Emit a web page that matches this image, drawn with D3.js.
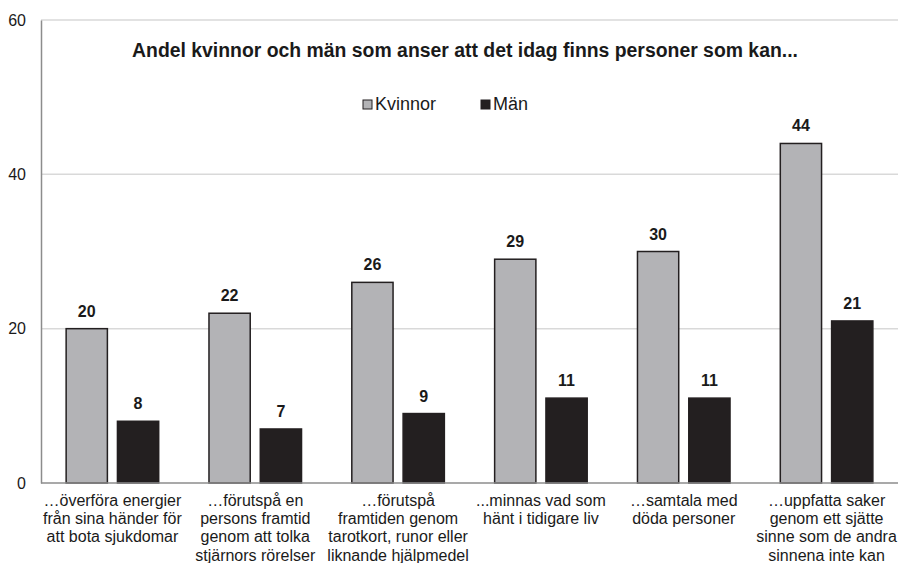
<!DOCTYPE html>
<html>
<head>
<meta charset="utf-8">
<script src="https://cdn.jsdelivr.net/npm/d3@7"></script>
<style>
  body { margin: 0; background: #fff; }
  text { font-family: "Liberation Sans", Arial, sans-serif; fill: #1a1a1a; }
</style>
</head>
<body>
<script>
// data
const categories = [
  ["…överföra energier", "från sina händer för", "att bota sjukdomar"],
  ["…förutspå en", "persons framtid", "genom att tolka", "stjärnors rörelser"],
  ["…förutspå", "framtiden genom", "tarotkort, runor eller", "liknande hjälpmedel"],
  ["...minnas vad som", "hänt i tidigare liv"],
  ["…samtala med", "döda personer"],
  ["…uppfatta saker", "genom ett sjätte", "sinne som de andra", "sinnena inte kan"]
];
const kvinnor = [20, 22, 26, 29, 30, 44];
const man = [8, 7, 9, 11, 11, 21];
const seriesNames = ["Kvinnor", "Män"];
const yTicks = [0, 20, 40, 60];
const title = "Andel kvinnor och män som anser att det idag finns personer som kan...";

const W = 898, H = 563;
const m = {top: 20, right: 0, bottom: 80, left: 41};
const colors = ["#b3b3b6", "#231f20"];

const svg = d3.select('body').append('svg')
  .attr('width', W).attr('height', H);

const x = d3.scaleBand()
  .domain(d3.range(categories.length))
  .range([m.left, W - m.right]);

const x1 = d3.scaleBand()
  .domain([0, 1])
  .range([0, x.bandwidth()])
  .paddingInner(0.196)
  .paddingOuter(0.49);

const y = d3.scaleLinear()
  .domain([0, 60])
  .range([H - m.bottom, m.top]);

// gridlines
svg.append('g')
  .selectAll('line')
  .data(yTicks.filter(d => d > 0))
  .enter().append('line')
  .attr('x1', m.left).attr('x2', W)
  .attr('y1', d => y(d)).attr('y2', d => y(d))
  .attr('stroke', '#d9d9d9').attr('stroke-width', 1.5);

// y axis
const yAxis = svg.append('g')
  .attr('transform', 'translate(' + m.left + ',0)')
  .call(d3.axisLeft(y).tickValues(yTicks).tickSize(0).tickPadding(15));
yAxis.select('.domain').attr('stroke', '#8c8c8c').attr('stroke-width', 1.5);
yAxis.selectAll('text').style('font-size', '16px').attr('fill', '#1a1a1a');

// bars
const data = categories.map((c, i) => ({i: i, vals: [kvinnor[i], man[i]]}));
const groups = svg.append('g')
  .selectAll('g')
  .data(data)
  .enter().append('g')
  .attr('transform', d => 'translate(' + x(d.i) + ',0)');

groups.selectAll('rect')
  .data(d => d.vals.map((v, s) => ({v: v, s: s})))
  .enter().append('rect')
  .attr('x', d => x1(d.s))
  .attr('width', x1.bandwidth())
  .attr('y', d => y(d.v))
  .attr('height', d => y(0) - y(d.v))
  .attr('fill', d => colors[d.s])
  .attr('stroke', '#231f20')
  .attr('stroke-width', 1.5);

groups.selectAll('text.val')
  .data(d => d.vals.map((v, s) => ({v: v, s: s})))
  .enter().append('text')
  .attr('class', 'val')
  .attr('x', d => x1(d.s) + x1.bandwidth() / 2)
  .attr('y', d => y(d.v) - 12)
  .attr('text-anchor', 'middle')
  .style('font-size', '16px')
  .style('font-weight', 'bold')
  .text(d => d.v);

// x baseline
svg.append('line')
  .attr('x1', m.left).attr('x2', W)
  .attr('y1', y(0)).attr('y2', y(0))
  .attr('stroke', '#8c8c8c').attr('stroke-width', 1.5);

// category labels
svg.append('g')
  .selectAll('text')
  .data(categories)
  .enter().append('text')
  .attr('text-anchor', 'middle')
  .attr('transform', (d, i) => 'translate(' + (x(i) + x.bandwidth() / 2) + ',' + (y(0) + 23) + ')')
  .style('font-size', '16px')
  .each(function(d) {
    d3.select(this).selectAll('tspan')
      .data(d)
      .enter().append('tspan')
      .attr('x', 0)
      .attr('dy', (t, j) => j === 0 ? 0 : 18.2)
      .text(t => t);
  });

// title
svg.append('text')
  .attr('x', 465).attr('y', 57)
  .attr('text-anchor', 'middle')
  .style('font-size', '19.4px')
  .style('font-weight', 'bold')
  .text(title);

// legend
const legendX = [363, 481];
const legend = svg.append('g')
  .selectAll('g')
  .data(seriesNames)
  .enter().append('g')
  .attr('transform', (d, i) => 'translate(' + legendX[i] + ',100)');
legend.append('rect')
  .attr('width', 9).attr('height', 9)
  .attr('fill', (d, i) => colors[i])
  .attr('stroke', '#231f20').attr('stroke-width', 1);
legend.append('text')
  .attr('x', 12).attr('y', 10)
  .style('font-size', '18px')
  .text(d => d);
</script>
</body>
</html>
